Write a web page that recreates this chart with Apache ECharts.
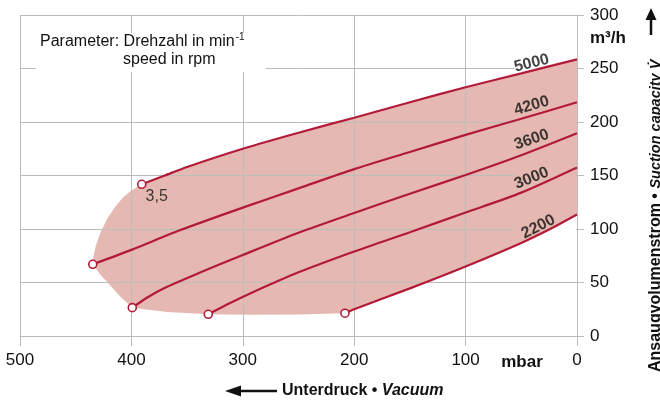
<!DOCTYPE html>
<html><head><meta charset="utf-8">
<script src="https://cdn.jsdelivr.net/npm/echarts@6/dist/echarts.min.js"></script>
<style>html,body{margin:0;padding:0;background:#fff}#c{width:660px;height:401px}</style>
</head><body><div id="c"></div>
<script>
// ---- data (x = Unterdruck mbar, y = Ansaugvolumenstrom m³/h) ----
const xTicks = [0, 100, 200, 300, 400, 500];
const yTicks = [0, 50, 100, 150, 200, 250, 300];
const speeds = ['5000', '4200', '3600', '3000', '2200'];
const curve5000 = [[390.7,141.8],[370,150],[350,158],[300,175],[250,190],[200,204],[150,218.5],[100,232.5],[50,245.5],[0,258.5]];
const curve4200 = [[434.7,67],[400,80.5],[356,99],[300,120],[250,138],[200,156],[150,172],[100,188],[50,203],[0,218.5]];
const curve3600 = [[399.2,26.5],[385,36.5],[368,46],[340,58.6],[300,75.7],[250,96.5],[200,115],[150,133],[100,150.5],[50,169],[0,189.5]];
const curve3000 = [[331,20.3],[310,31.5],[293,40],[250,59.5],[200,79],[150,97],[100,115.4],[50,134],[0,157.5]];
const curve2200 = [[208.3,21.3],[200,25],[150,44.5],[100,65],[50,87],[25,99.5],[0,113.5]];
const envelopeBottom = [[208.3,21.3],[250,20.2],[293,19.8],[331,20.3],[368,22.5],[399.2,26.5]];
const envelopeLeft = [[399.2,26.5],[410,37],[420.7,49.4],[428,57.5],[434.7,67],[434,75],[432,84],[428,96],[422,109],[415,120],[408,129],[400,136],[390.7,141.8]];
const labelPos = [[40.7,254.9],[40.7,215.2],[40.7,183.5],[40.7,147.4],[34.7,102.1]];
const labelRot = [14, 16, 19, 22, 27];
const extraLabel = {text: '3,5', pos: [377.3,130.2]};

const curves = [curve5000, curve4200, curve3600, curve3000, curve2200];
const RED = '#b31a38', FILL = '#e5b9b1', GRID = '#bcbcbc';
const FONT = "'Liberation Sans', Arial, Helvetica, sans-serif";

// envelope polygon (in data coordinates)
const envelope = [].concat(
  curve5000,
  curve2200.slice().reverse(),
  envelopeBottom.slice(1),
  envelopeLeft.slice(1)
);
function interp(curve, x) {
  for (let i = 0; i < curve.length - 1; i++) {
    const a = curve[i], b = curve[i+1];
    if ((x <= a[0] && x >= b[0])) { const t = (a[0]-x)/(a[0]-b[0]); return a[1] + t*(b[1]-a[1]); }
  }
  return curve[curve.length-1][1];
}
const colX = [56, 50, 25, 0.7];

const chart = echarts.init(document.getElementById('c'), null, {renderer: 'canvas'});
const series = [
  { type: 'custom', coordinateSystem: 'cartesian2d', zlevel: -1, z: 0, silent: true, data: [[0,0]],
    renderItem: function (p, api) {
      return { type: 'polygon', shape: { points: envelope.map(q => api.coord(q)) }, style: { fill: FILL } };
    } },
  { type: 'custom', coordinateSystem: 'cartesian2d', zlevel: 1, z: 1, silent: true, data: [[0,0]],
    renderItem: function (p, api) {
      const tl = api.coord([colX[0], 256]), br = api.coord([colX[colX.length-1], 95]);
      const top = colX.map(x => api.coord([x, interp(curve5000, x)]));
      const bot = colX.slice().reverse().map(x => api.coord([x, interp(curve2200, x)]));
      return { type: 'group', children: [
        { type: 'rect', shape: { x: Math.round(tl[0]), y: tl[1], width: Math.round(br[0]) - Math.round(tl[0]), height: br[1]-tl[1] }, style: { fill: '#fff' }, z2: 1 },
        { type: 'polygon', shape: { points: top.concat(bot) }, style: { fill: FILL }, z2: 2 }
      ] };
    } }
];
curves.forEach((c, i) => series.push({
  type: 'line', data: c, showSymbol: false, zlevel: 1, z: 3, silent: true, smooth: 0.25,
  lineStyle: { color: RED, width: 2.2 }
}));
series.push({
  type: 'scatter', zlevel: 1, z: 4, silent: true, symbol: 'circle', symbolSize: 8,
  itemStyle: { color: '#fff', borderColor: RED, borderWidth: 1.6, opacity: 1 },
  data: curves.map(c => c[0])
});
series.push({
  type: 'scatter', zlevel: 1, z: 5, silent: true, symbol: 'circle', symbolSize: 1,
  itemStyle: { color: 'rgba(0,0,0,0)' },
  label: { show: true, position: 'inside', color: '#111', fontFamily: FONT, fontSize: 16, fontWeight: 'bold',
    formatter: p => p.name },
  data: speeds.map((s, i) => ({ name: s, value: labelPos[i], label: { rotate: labelRot[i] } }))
    .concat([{ name: extraLabel.text, value: extraLabel.pos, label: { rotate: 0, fontWeight: 'normal' } }])
});

chart.setOption({
  animation: false,
  backgroundColor: '#fff',
  grid: { left: 20, right: 83, top: 15, bottom: 65 },
  xAxis: { type: 'value', min: 0, max: 500, interval: 100, inverse: true,
    axisLine: { show: true, lineStyle: { color: GRID, width: 1 } },
    axisTick: { show: true, length: 10, lineStyle: { color: GRID } },
    splitLine: { show: true, lineStyle: { color: GRID, width: 1 } },
    axisLabel: { fontFamily: FONT, fontSize: 17, color: '#111', margin: 16,
      formatter: v => xTicks.indexOf(v) >= 0 ? String(v) : '' } },
  yAxis: { type: 'value', position: 'right', min: 0, max: 300, interval: 50,
    axisLine: { show: true, lineStyle: { color: GRID, width: 1 } },
    axisTick: { show: true, length: 7, lineStyle: { color: GRID } },
    splitLine: { show: true, lineStyle: { color: GRID, width: 1 } },
    axisLabel: { fontFamily: FONT, fontSize: 17, color: '#111', margin: 13,
      formatter: v => yTicks.indexOf(v) >= 0 ? String(v) : '' } },
  graphic: [
    { type: 'rect', zlevel: 1, z: 10, shape: { x: 36, y: 33, width: 230, height: 39 }, style: { fill: '#fff' } },
    { type: 'text', zlevel: 1, z: 11, x: 40, y: 42, style: { text: '{a|Parameter: Drehzahl in min}{s|-1}', verticalAlign: 'middle',
        rich: { a: { fontFamily: FONT, fontSize: 16, fill: '#111' }, s: { fontFamily: FONT, fontSize: 10, fill: '#111', padding: [0,0,9,1] } } } },
    { type: 'text', zlevel: 1, z: 11, x: 123, y: 60, style: { text: 'speed in rpm', fontFamily: FONT, fontSize: 16, fill: '#111', verticalAlign: 'middle' } },
    { type: 'text', zlevel: 1, z: 11, x: 590, y: 38, style: { text: 'm³/h', fontFamily: FONT, fontSize: 17, fontWeight: 'bold', fill: '#111', verticalAlign: 'middle' } },
    { type: 'text', zlevel: 1, z: 11, x: 522, y: 362, style: { text: 'mbar', fontFamily: FONT, fontSize: 17, fontWeight: 'bold', fill: '#111', align: 'center', verticalAlign: 'middle' } },
    { type: 'text', zlevel: 1, z: 11, x: 282, y: 391, style: { text: '{a|Unterdruck • }{b|Vacuum}', verticalAlign: 'middle',
        rich: { a: { fontFamily: FONT, fontSize: 16, fontWeight: 'bold', fill: '#111' }, b: { fontFamily: FONT, fontSize: 16, fontWeight: 'bold', fontStyle: 'italic', fill: '#111' } } } },
    { type: 'polygon', zlevel: 1, z: 11, shape: { points: [[225,391],[241,385.5],[241,396.5]] }, style: { fill: '#111' } },
    { type: 'line', zlevel: 1, z: 11, shape: { x1: 238, y1: 391, x2: 277, y2: 391 }, style: { stroke: '#111', lineWidth: 2.5 } },
    { type: 'text', zlevel: 1, z: 11, x: 656, y: 372, rotation: Math.PI / 2, style: { text: '{a|Ansaugvolumenstrom • }{b|Suction capacity V\u0307}', verticalAlign: 'middle', align: 'left',
        rich: { a: { fontFamily: FONT, fontSize: 16, fontWeight: 'bold', fill: '#111' }, b: { fontFamily: FONT, fontSize: 14.5, fontWeight: 'bold', fontStyle: 'italic', fill: '#111' } } } },
    { type: 'polygon', zlevel: 1, z: 11, shape: { points: [[651,8],[645.5,20],[656.5,20]] }, style: { fill: '#111' } },
    { type: 'line', zlevel: 1, z: 11, shape: { x1: 651, y1: 17, x2: 651, y2: 35 }, style: { stroke: '#111', lineWidth: 2.5 } }
  ],
  series: series
});
</script></body></html>
